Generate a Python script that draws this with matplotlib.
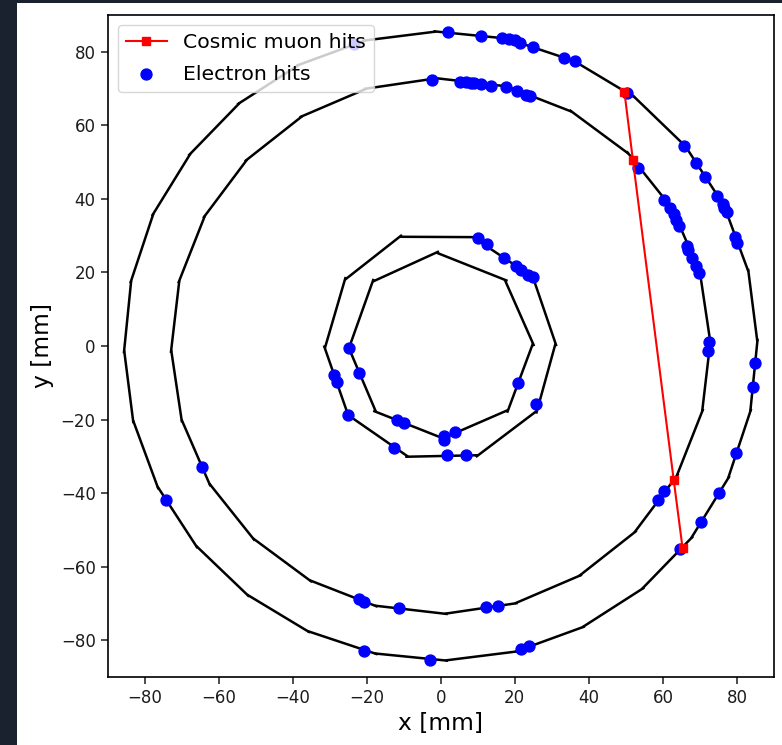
import math
import matplotlib
matplotlib.use("Agg")
import matplotlib.pyplot as plt
from matplotlib.patches import Rectangle

ring_outer = [(85.5,1.2),(83.1,20.2),(76.5,38.2),(66.1,54.3),(52.4,67.6),(36,77.5),(17.8,83.6),(-1.2,85.5),
              (-20.3,83.1),(-38.2,76.5),(-54.3,66.1),(-67.6,52.3),(-77.6,36),(-83.6,17.8),(-85.5,-1.2),
              (-83.1,-20.2),(-76.5,-38.2),(-66.1,-54.3),(-52.3,-67.6),(-36,-77.5),(-17.8,-83.6),(1.2,-85.5),
              (20.2,-83.1),(38.2,-76.5),(54.3,-66.1),(67.6,-52.3),(77.6,-36),(83.6,-17.8)]
ring_middle = [(72.8,1.1),(70,20),(62.5,37.4),(50.7,52.3),(35.4,63.7),(17.8,70.6),(-1.1,72.8),(-20,70),
               (-37.4,62.5),(-52.3,50.7),(-63.7,35.4),(-70.6,17.8),(-72.8,-1.1),(-70,-20),(-62.5,-37.4),
               (-50.7,-52.3),(-35.4,-63.7),(-17.8,-70.6),(1.1,-72.8),(20,-70),(37.4,-62.5),(52.3,-50.7),
               (63.7,-35.4),(70.6,-17.8)]
ring_inner_a = [(-11.1,29.7),(8.7,29.6),(24.9,18.7),(31,0.7),(26,-17.6),(10.1,-29.7),(-8.8,-30.1),(-25,-18.8),
                (-31.3,-0.6),(-25.9,18)]
ring_inner_b = [(-1.2,25.4),(17.3,18),(24.9,0.7),(18.2,-17.4),(0.6,-25.1),(-17.5,-17.9),(-24.8,-0.6),(-18.4,17.5)]
rings = [ring_outer, ring_middle, ring_inner_a, ring_inner_b]

muon_x = [49.6, 51.9, 62.9, 65.3]
muon_y = [69.1, 50.5, -36.3, -54.9]

electron_x = [1.9,11,16.6,18.4,20,21.5,24.9,33.3,36.2,50.3,
              -2.4,5.2,6.7,8.1,9,10.9,13.6,17.7,20.5,23.1,24.2,
              65.8,69,71.4,74.7,76.2,76.6,77.3,79.5,80,
              53.4,60.2,61.8,62.9,63.6,64.3,66.5,66.9,67.8,68.8,69.8,
              72.4,72.2,84.8,84.2,79.7,75.1,70.2,64.7,60.4,58.6,
              -22.1,-20.8,-11.3,12.1,15.4,-20.7,-3,21.7,23.9,
              -74.2,-64.4,-23.5,
              10,12.4,17.2,20.3,21.7,23.6,25,25.8,6.7,1.7,-12.5,-25.1,-28,-28.7,
              -24.8,-22.1,-11.7,-9.8,0.8,0.9,3.8,20.8]
electron_y = [85.4,84.4,83.7,83.6,83.1,82.5,81.4,78.4,77.5,68.7,
              72.4,71.9,71.8,71.6,71.5,71.2,70.8,70.4,69.4,68.3,67.9,
              54.4,49.7,45.9,40.7,38.5,37.6,36.3,29.7,28,
              48.5,39.6,37.6,35.9,34.3,32.5,27.3,26.1,24,21.7,19.8,
              1,-1.3,-4.7,-11.2,-29,-40.1,-47.9,-55.3,-39.5,-41.8,
              -68.8,-69.5,-71.2,-71.1,-70.6,-82.9,-85.3,-82.5,-81.6,
              -41.8,-33,82.2,
              29.3,27.6,24,21.8,20.7,19.3,18.7,-15.8,-29.7,-29.7,-27.6,-18.8,-9.9,-7.9,
              -0.6,-7.3,-20.1,-21,-24.5,-25.6,-23.4,-10.1]

W, H = 782, 745
fig = plt.figure(figsize=(W/100, H/100), dpi=100, facecolor="#1a2230")
fig.add_artist(Rectangle((17/W, 0), 1 - 17/W, 1 - 3/H, transform=fig.transFigure,
                         facecolor="white", edgecolor="none", zorder=-10))
ax = fig.add_axes([107.5/W, 1 - 677/H, (774 - 107.5)/W, (677 - 15)/H])

over = 0.8
for ring in rings:
    n = len(ring)
    for i in range(n):
        x0, y0 = ring[i]
        x1, y1 = ring[(i + 1) % n]
        dx, dy = x1 - x0, y1 - y0
        d = math.hypot(dx, dy)
        ux, uy = dx/d*over, dy/d*over
        ax.plot([x0, x1 + ux], [y0, y1 + uy], color="black", lw=1.8,
                solid_capstyle="butt", zorder=2)

ax.scatter(electron_x, electron_y, s=62, color="blue", label="Electron hits", zorder=3)
ax.plot(muon_x, muon_y, color="red", marker="s", ms=6.2, lw=1.5, label="Cosmic muon hits", zorder=4)

ax.set_xlim(-90, 90)
ax.set_ylim(-90, 90)
ax.set_xticks(range(-80, 81, 20))
ax.set_yticks(range(-80, 81, 20))
ax.tick_params(labelsize=12, length=5, width=1.1, colors="#1c1c1c")
for s in ax.spines.values():
    s.set_linewidth(1.2)
ax.set_xlabel("x [mm]", fontsize=16.8, labelpad=4)
ax.set_ylabel("y [mm]", fontsize=16.8, labelpad=5)
h, l = ax.get_legend_handles_labels()
ax.legend(h[::-1], l[::-1], loc="upper left", fontsize=14.7, labelspacing=0.6)
ax.set_facecolor("white")
fig.savefig("out.png", dpi=100, facecolor=fig.get_facecolor())
